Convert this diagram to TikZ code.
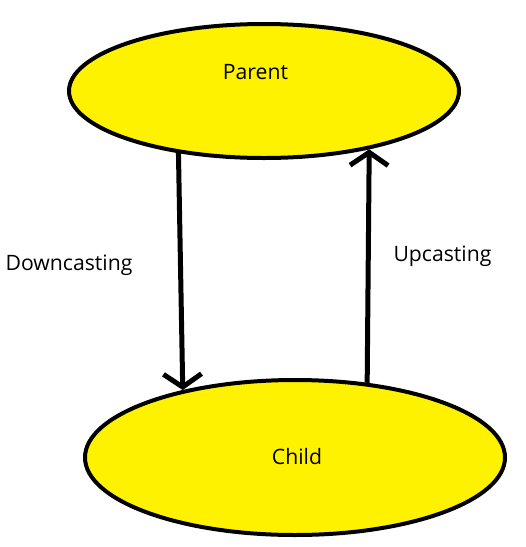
\documentclass[tikz,border=0pt]{standalone}
\usepackage{fontspec}
\setmainfont{Open Sans}
\usetikzlibrary{shapes.geometric}
\usetikzlibrary{arrows.meta}
\definecolor{paintyellow}{RGB}{255,242,0}

\begin{document}
\begin{tikzpicture}[x=1pt,y=-1pt,
    blob/.style = {ellipse,draw,fill = paintyellow,line width = 4pt,inner sep = 0pt},
    cast/.style = {line width = 5pt,-{Straight Barb[length=13pt,width=38pt]}},
    word/.style = {anchor = base,font = \fontsize{21.2}{25}\selectfont}]
      \useasboundingbox (0,0) rectangle (526,547);
      \node[blob,minimum width = 390pt,minimum height = 134pt] (parent) at (264,91) {};
      \node[blob,minimum width = 420pt,minimum height = 155pt] (child) at (295,457.5) {};
      \node[word] (parentname) at (255.5,79.3) {Parent};
      \node[word] (childname) at (297,464.3) {Child};
      \node[word] (down) at (69,270) {Downcasting};
      \node[word] (up) at (442.5,261.7) {Upcasting};
      \draw[cast] (parent.216) -- (child.149.6);
      \draw[cast] (child.46.7) -- (parent.331.4);
      \end{tikzpicture}
\end{document}
